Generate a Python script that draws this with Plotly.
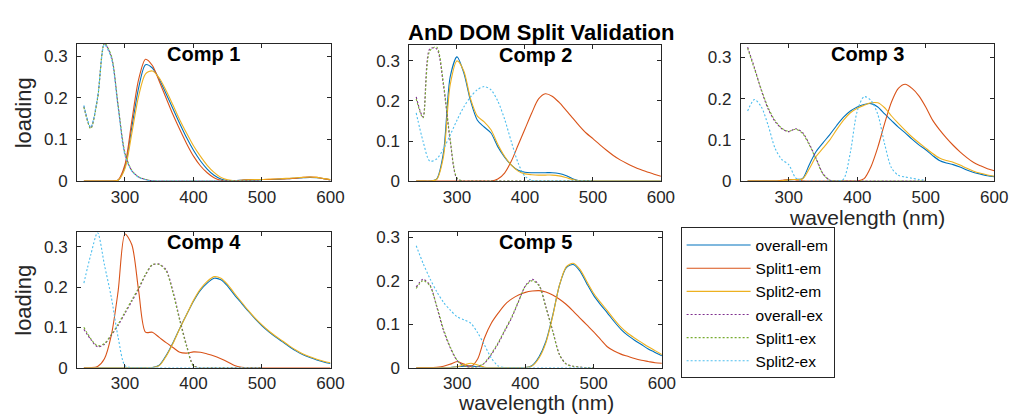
import plotly.graph_objects as go

# ---------------- data ----------------
WL_EM = [240, 250, 260, 270, 280, 290, 300, 310, 320, 330, 340, 350, 360, 370, 380, 390, 400,
         410, 420, 430, 440, 450, 460, 470, 480, 490, 500, 510, 520, 530, 540, 550, 560, 570,
         580, 590, 600]
WL_EX = [240, 250, 260, 270, 280, 290, 300, 310, 320, 330, 340, 350, 360, 370, 380, 390, 400,
         410, 420, 430, 440, 450, 460, 470, 480, 490, 500]

# Comp 1
C1_EM_ALL = [0, 0, 0, 0, 0, 0.002, 0.035, 0.13, 0.225, 0.28, 0.272, 0.245, 0.21, 0.174, 0.138, 0.104, 0.074,
             0.049, 0.029, 0.014, 0.005, 0.001, 0.001, 0.002, 0.003, 0.003, 0.004, 0.004, 0.004, 0.005, 0.006,
             0.007, 0.008, 0.009, 0.008, 0.006, 0.003]
C1_EM_S1 = [0, 0, 0, 0, 0, 0.003, 0.04, 0.145, 0.245, 0.293, 0.278, 0.24, 0.2, 0.16, 0.124, 0.09, 0.06,
            0.037, 0.02, 0.008, 0.002, 0, 0.001, 0.002, 0.003, 0.003, 0.004, 0.004, 0.005, 0.005, 0.006,
            0.007, 0.009, 0.01, 0.009, 0.006, 0.003]
C1_EM_S2 = [0, 0, 0, 0, 0, 0.002, 0.03, 0.115, 0.205, 0.258, 0.265, 0.248, 0.218, 0.183, 0.147, 0.115, 0.085,
            0.06, 0.038, 0.021, 0.009, 0.003, 0.001, 0.002, 0.003, 0.004, 0.004, 0.005, 0.005, 0.006, 0.007,
            0.008, 0.009, 0.01, 0.009, 0.006, 0.004]
C1_EX_ALL = [0.18, 0.128, 0.2, 0.33, 0.3, 0.18, 0.065, 0.025, 0.01, 0.004, 0.001, 0, 0, 0, 0, 0, 0,
             0, 0, 0, 0, 0, 0, 0, 0, 0, 0]
C1_EX_S1 = [0.178, 0.126, 0.198, 0.332, 0.302, 0.183, 0.068, 0.026, 0.01, 0.004, 0.001, 0, 0, 0, 0, 0, 0,
            0, 0, 0, 0, 0, 0, 0, 0, 0, 0]
C1_EX_S2 = [0.182, 0.13, 0.202, 0.328, 0.296, 0.176, 0.062, 0.024, 0.009, 0.003, 0.001, 0, 0, 0, 0, 0, 0,
            0, 0, 0, 0, 0, 0, 0, 0, 0, 0]

# Comp 2
C2_EM_ALL = [0, 0, 0, 0.005, 0.07, 0.26, 0.31, 0.27, 0.2, 0.152, 0.135, 0.12, 0.086, 0.06, 0.04, 0.027, 0.022,
             0.021, 0.021, 0.021, 0.021, 0.019, 0.014, 0.006, 0.001, 0, 0, 0, 0, 0, 0, 0, 0, 0, 0, 0, 0]
C2_EM_S1 = [0, 0, 0, 0, 0, 0, 0, 0, 0, 0, 0, 0, 0.005, 0.02, 0.05, 0.09, 0.13, 0.17, 0.205, 0.218, 0.212,
            0.197, 0.178, 0.158, 0.138, 0.12, 0.106, 0.091, 0.077, 0.064, 0.053, 0.044, 0.036, 0.029, 0.023,
            0.017, 0.012]
C2_EM_S2 = [0, 0, 0, 0.004, 0.06, 0.24, 0.3, 0.275, 0.205, 0.162, 0.148, 0.128, 0.092, 0.062, 0.04, 0.025, 0.018,
            0.016, 0.015, 0.015, 0.015, 0.013, 0.009, 0.004, 0.001, 0, 0, 0, 0, 0, 0, 0, 0, 0, 0, 0, 0]
C2_EX_ALL = [0.21, 0.16, 0.33, 0.33, 0.24, 0.1, 0.006, 0, 0, 0, 0, 0, 0, 0, 0, 0, 0,
             0, 0, 0, 0, 0, 0, 0, 0, 0, 0]
C2_EX_S1 = [0.205, 0.158, 0.325, 0.335, 0.245, 0.105, 0.008, 0, 0, 0, 0, 0, 0, 0, 0, 0, 0,
            0, 0, 0, 0, 0, 0, 0, 0, 0, 0]
C2_EX_S2 = [0.17, 0.1, 0.05, 0.055, 0.08, 0.115, 0.152, 0.185, 0.21, 0.228, 0.236, 0.228, 0.2, 0.155, 0.098,
            0.045, 0.012, 0.002, 0, 0, 0, 0, 0, 0, 0, 0, 0]

# Comp 3
C3_EM_ALL = [0, 0, 0, 0, 0, 0.001, 0.003, 0.004, 0.006, 0.04, 0.072, 0.093, 0.113, 0.135, 0.155, 0.17, 0.18,
             0.186, 0.188, 0.18, 0.163, 0.147, 0.131, 0.117, 0.102, 0.088, 0.076, 0.062, 0.05, 0.044, 0.04,
             0.034, 0.027, 0.021, 0.017, 0.013, 0.011]
C3_EM_S1 = [0, 0, 0, 0, 0, 0.002, 0.004, 0.003, 0.001, 0, 0, 0, 0, 0, 0, 0, 0,
            0.006, 0.035, 0.082, 0.14, 0.192, 0.225, 0.235, 0.225, 0.207, 0.18, 0.148, 0.125, 0.105, 0.087,
            0.071, 0.057, 0.045, 0.037, 0.03, 0.025]
C3_EM_S2 = [0, 0, 0, 0, 0, 0.001, 0.003, 0.004, 0.005, 0.03, 0.06, 0.08, 0.1, 0.125, 0.148, 0.166, 0.177,
            0.184, 0.19, 0.19, 0.178, 0.158, 0.14, 0.123, 0.107, 0.093, 0.08, 0.067, 0.056, 0.05, 0.046,
            0.039, 0.031, 0.024, 0.019, 0.015, 0.012]
C3_EX_ALL = [0.325, 0.275, 0.22, 0.175, 0.145, 0.127, 0.12, 0.127, 0.118, 0.09, 0.055, 0.018, 0.002, 0, 0, 0, 0,
             0, 0, 0, 0, 0, 0, 0, 0, 0, 0]
C3_EX_S1 = [0.322, 0.272, 0.222, 0.178, 0.147, 0.128, 0.121, 0.126, 0.116, 0.088, 0.053, 0.017, 0.002, 0, 0, 0, 0,
            0, 0, 0, 0, 0, 0, 0, 0, 0, 0]
C3_EX_S2 = [0.17, 0.198, 0.18, 0.135, 0.08, 0.052, 0.04, 0.008, 0, 0, 0, 0, 0, 0, 0.005, 0.07, 0.17,
            0.205, 0.196, 0.162, 0.09, 0.032, 0.014, 0.01, 0.007, 0.004, 0.002]

# Comp 4
C4_EM_ALL = [0, 0, 0, 0, 0, 0, 0, 0, 0, 0, 0, 0.006, 0.03, 0.062, 0.098, 0.132, 0.165,
             0.192, 0.21, 0.222, 0.218, 0.202, 0.18, 0.16, 0.14, 0.121, 0.104, 0.089, 0.076, 0.064, 0.052,
             0.041, 0.032, 0.025, 0.019, 0.014, 0.01]
C4_EM_S1 = [0, 0, 0.003, 0.022, 0.08, 0.19, 0.332, 0.305, 0.19, 0.088, 0.088, 0.075, 0.062, 0.05, 0.038, 0.036, 0.039,
            0.038, 0.034, 0.029, 0.022, 0.014, 0.005, 0.001, 0, 0, 0, 0, 0, 0, 0, 0, 0, 0, 0, 0, 0]
C4_EM_S2 = [0, 0, 0, 0, 0, 0, 0, 0, 0, 0, 0, 0.005, 0.028, 0.06, 0.097, 0.132, 0.167,
            0.195, 0.214, 0.226, 0.222, 0.206, 0.184, 0.163, 0.142, 0.123, 0.106, 0.091, 0.078, 0.066, 0.054,
            0.043, 0.034, 0.027, 0.021, 0.016, 0.012]
C4_EX_ALL = [0.095, 0.07, 0.052, 0.058, 0.08, 0.105, 0.135, 0.165, 0.195, 0.23, 0.255, 0.257, 0.243, 0.19, 0.12,
             0.055, 0.005, 0, 0, 0, 0, 0, 0, 0, 0, 0, 0]
C4_EX_S1 = [0.1, 0.072, 0.054, 0.06, 0.082, 0.108, 0.138, 0.168, 0.198, 0.232, 0.256, 0.256, 0.24, 0.186, 0.116,
            0.052, 0.004, 0, 0, 0, 0, 0, 0, 0, 0, 0, 0]
C4_EX_S2 = [0.21, 0.28, 0.335, 0.255, 0.175, 0.075, 0.005, 0, 0, 0, 0, 0, 0, 0, 0, 0, 0,
            0, 0, 0, 0, 0, 0, 0, 0, 0, 0]

# Comp 5
C5_EM_ALL = [0, 0, 0, 0, 0, 0, 0.002, 0.003, 0.004, 0.002, 0, 0, 0, 0, 0, 0, 0,
             0.005, 0.025, 0.06, 0.12, 0.19, 0.23, 0.237, 0.222, 0.193, 0.166, 0.145, 0.126, 0.106, 0.088,
             0.074, 0.063, 0.053, 0.043, 0.035, 0.027]
C5_EM_S1 = [0, 0, 0, 0.001, 0.003, 0.008, 0.014, 0.008, 0.003, 0.02, 0.068, 0.102, 0.125, 0.145, 0.158, 0.167, 0.173,
            0.176, 0.177, 0.174, 0.167, 0.157, 0.145, 0.13, 0.114, 0.098, 0.082, 0.065, 0.048, 0.038, 0.031,
            0.026, 0.021, 0.017, 0.014, 0.011, 0.01]
C5_EM_S2 = [0, 0, 0, 0, 0, 0, 0.002, 0.006, 0.01, 0.006, 0.001, 0, 0, 0, 0, 0, 0,
            0.004, 0.022, 0.057, 0.118, 0.19, 0.232, 0.24, 0.226, 0.198, 0.171, 0.15, 0.131, 0.111, 0.093,
            0.079, 0.068, 0.058, 0.048, 0.039, 0.03]
C5_EX_ALL = [0.185, 0.203, 0.19, 0.14, 0.085, 0.045, 0.016, 0.004, 0, 0.002, 0.01, 0.03, 0.055, 0.085, 0.115,
             0.152, 0.188, 0.203, 0.19, 0.14, 0.085, 0.03, 0.008, 0.003, 0.001, 0, 0]
C5_EX_S1 = [0.182, 0.2, 0.188, 0.142, 0.088, 0.047, 0.017, 0.004, 0, 0.002, 0.011, 0.032, 0.057, 0.087, 0.117,
            0.153, 0.187, 0.2, 0.188, 0.138, 0.083, 0.029, 0.008, 0.003, 0.001, 0, 0]
C5_EX_S2 = [0.28, 0.24, 0.205, 0.175, 0.15, 0.132, 0.117, 0.11, 0.102, 0.08, 0.052, 0.022, 0.004, 0, 0, 0, 0,
            0, 0, 0, 0, 0, 0, 0, 0, 0, 0]

COMP_TITLES = ["Comp 1", "Comp 2", "Comp 3", "Comp 4", "Comp 5"]
SERIES_NAMES = ["overall-em", "Split1-em", "Split2-em", "overall-ex", "Split1-ex", "Split2-ex"]
Y_MAX = [0.33, 0.34, 0.333, 0.336, 0.311]
X_RANGE = [230, 600]
X_TICKS = [300, 400, 500, 600]
Y_TICKS = [0, 0.1, 0.2, 0.3]
Y_TICK_LABELS = ["0", "0.1", "0.2", "0.3"]
SUPTITLE = "AnD DOM Split Validation"
X_LABEL = "wavelength (nm)"
Y_LABEL = "loading"

EM = [[C1_EM_ALL, C1_EM_S1, C1_EM_S2], [C2_EM_ALL, C2_EM_S1, C2_EM_S2], [C3_EM_ALL, C3_EM_S1, C3_EM_S2],
      [C4_EM_ALL, C4_EM_S1, C4_EM_S2], [C5_EM_ALL, C5_EM_S1, C5_EM_S2]]
EX = [[C1_EX_ALL, C1_EX_S1, C1_EX_S2], [C2_EX_ALL, C2_EX_S1, C2_EX_S2], [C3_EX_ALL, C3_EX_S1, C3_EX_S2],
      [C4_EX_ALL, C4_EX_S1, C4_EX_S2], [C5_EX_ALL, C5_EX_S1, C5_EX_S2]]

# ---------------- style ----------------
COLORS = ["#0072BD", "#D95319", "#EDB120", "#7E2F8E", "#77AC30", "#4DBEEE"]
FONT = "Liberation Sans, Arial, Helvetica, sans-serif"
AXC = "#262626"
W, H = 1018, 416
# axes boxes in pixels: left, top, right, bottom
BOXES = [(70, 33, 327, 175), (407, 34, 662, 175), (743, 33, 1000, 175),
         (70, 228, 327, 368), (407, 228, 663, 368)]

fig = go.Figure()
layout = dict(width=W, height=H, margin=dict(l=0, r=0, t=0, b=0),
              paper_bgcolor="white", plot_bgcolor="white", showlegend=True)
annotations = []

def px_x(x):
    return x / W

def px_y(y):
    return 1 - y / H

for i in range(5):
    n = i + 1
    xa = "x" if n == 1 else f"x{n}"
    ya = "y" if n == 1 else f"y{n}"
    for j in range(3):
        fig.add_trace(go.Scatter(x=WL_EM, y=EM[i][j], mode="lines", name=SERIES_NAMES[j],
                                 line=dict(color=COLORS[j], width=1.1, shape="spline", smoothing=0.8),
                                 xaxis=xa, yaxis=ya, showlegend=(i == 0), hoverinfo="skip"))
    for j in range(3):
        fig.add_trace(go.Scatter(x=WL_EX, y=EX[i][j], mode="lines", name=SERIES_NAMES[3 + j],
                                 line=dict(color=COLORS[3 + j], width=1.1, dash="2px,2px",
                                           shape="spline", smoothing=0.8),
                                 xaxis=xa, yaxis=ya, showlegend=(i == 0), hoverinfo="skip"))
    l, t, r, b = BOXES[i]
    axcommon = dict(showline=True, linecolor=AXC, linewidth=1, mirror="ticks", ticks="inside",
                    ticklen=4, tickcolor=AXC, showgrid=False, zeroline=False,
                    tickfont=dict(family=FONT, size=17, color=AXC))
    layout["xaxis" + ("" if n == 1 else str(n))] = dict(
        domain=[px_x(l), px_x(r)], anchor=ya, range=X_RANGE, tickvals=X_TICKS,
        ticklabelstandoff=0, **axcommon)
    layout["yaxis" + ("" if n == 1 else str(n))] = dict(
        domain=[px_y(b), px_y(t)], anchor=xa, range=[0, Y_MAX[i]], tickvals=Y_TICKS,
        ticktext=Y_TICK_LABELS, ticklabelstandoff=5, **axcommon)
    annotations.append(dict(text="<b>" + COMP_TITLES[i] + "</b>", x=px_x((l + r) / 2), y=px_y(t + 10),
                            xref="paper", yref="paper", xanchor="center", yanchor="middle", showarrow=False,
                            font=dict(family=FONT, size=20, color="black")))

annotations.append(dict(text="<b>" + SUPTITLE + "</b>", x=px_x(540), y=px_y(21), xref="paper", yref="paper",
                        xanchor="center", yanchor="middle", showarrow=False,
                        font=dict(family=FONT, size=22, color="black")))
for (cx, cy) in [(871, 213), (535, 404)]:
    annotations.append(dict(text=X_LABEL, x=px_x(cx), y=px_y(cy), xref="paper", yref="paper",
                            xanchor="center", yanchor="middle", showarrow=False,
                            font=dict(family=FONT, size=21, color=AXC)))
for (cx, cy) in [(16, 104), (16, 298)]:
    annotations.append(dict(text=Y_LABEL, x=px_x(cx), y=px_y(cy), xref="paper", yref="paper",
                            xanchor="center", yanchor="middle", showarrow=False, textangle=-90,
                            font=dict(family=FONT, size=22, color=AXC)))

layout["annotations"] = annotations
layout["legend"] = dict(x=px_x(682), y=px_y(223), xanchor="left", yanchor="top", bgcolor="white",
                        bordercolor=AXC, borderwidth=1, font=dict(family=FONT, size=15.5, color="black"),
                        itemwidth=64, tracegroupgap=0)
fig.update_layout(**layout)
fig.write_html("out.html")
